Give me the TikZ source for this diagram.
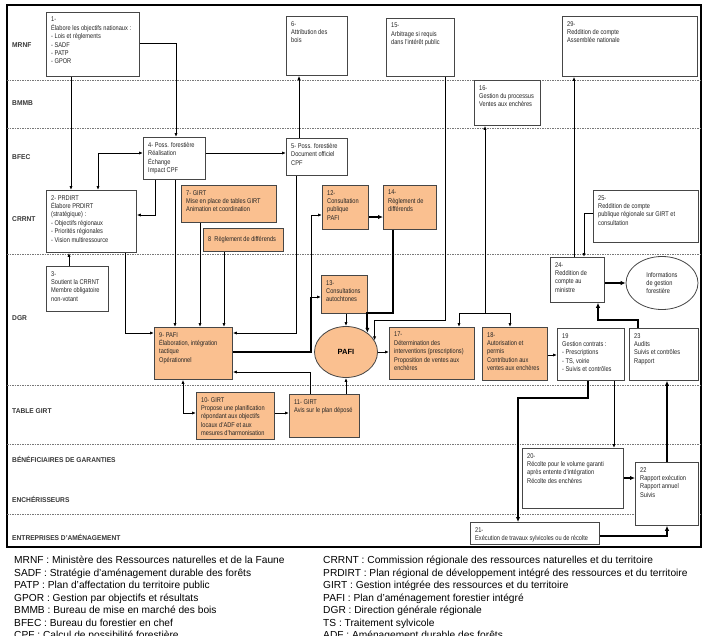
\documentclass[tikz,border=0pt]{standalone}
\usepackage{fontspec}
\setmainfont{Liberation Sans}
\newfontfamily\boxfont{Liberation Sans}[FakeStretch=0.82]
\newfontfamily\lanefont{Liberation Sans}[FakeStretch=0.95]
\usepackage{tikz}
\usetikzlibrary{arrows.meta, shapes.geometric}

\definecolor{lightorange}{RGB}{250,192,144}
\definecolor{boxline}{RGB}{70,70,70}
\definecolor{lanegray}{RGB}{120,120,120}
\definecolor{labelgray}{RGB}{55,55,55}

\begin{document}
\begin{tikzpicture}[x=1pt, y=-1pt, >={Latex[length=4pt,width=3.2pt]}]

        % Styles
        \tikzstyle{procbox} = [draw=boxline, line width=0.8pt, fill=white, anchor=north west, inner sep=0pt]
        \tikzstyle{girtbox} = [procbox, fill=lightorange]
        \tikzstyle{boxtext} = [anchor=north west, inner xsep=5pt, inner ysep=5pt, align=left, text=black!85, font=\boxfont\fontsize{6.9}{8.4}\selectfont]
        \tikzstyle{lanelabel} = [anchor=west, inner sep=0pt, text=labelgray, font=\lanefont\bfseries\fontsize{7}{8}\selectfont]
        \tikzstyle{laneline} = [lanegray, line width=0.6pt, dash pattern=on 1.5pt off 1pt]
        \tikzstyle{conn} = [->, line width=0.9pt]
        \tikzstyle{connboth} = [<->, line width=0.9pt]
        \tikzstyle{thickline} = [line width=2.2pt]
        \tikzstyle{thickconn} = [-{Latex[length=5pt,width=4.5pt]}, line width=2.2pt]
        \tikzstyle{legend} = [anchor=base west, inner sep=0pt, font=\fontsize{10.2}{12.5}\selectfont]

        \useasboundingbox (0,0) rectangle (707,635);

        % Frame and lanes
        \draw[line width=1.2pt] (7,5) rectangle (701,547);
        \draw[laneline] (7,80) -- (701,80);
        \draw[laneline] (7,128) -- (701,128);
        \draw[laneline] (7,254) -- (701,254);
        \draw[laneline] (7,385) -- (701,385);
        \draw[laneline] (7,444) -- (701,444);
        \draw[laneline] (7,514) -- (701,514);

        \node[lanelabel] (lMRNF) at (12,45) {MRNF};
        \node[lanelabel] (lBMMB) at (12,103) {BMMB};
        \node[lanelabel] (lBFEC) at (12,157) {BFEC};
        \node[lanelabel] (lCRRNT) at (12,219) {CRRNT};
        \node[lanelabel] (lDGR) at (12,318) {DGR};
        \node[lanelabel] (lTABLE) at (12,411) {TABLE GIRT};
        \node[lanelabel] (lBENEF) at (12,459) {BÉNÉFICIAIRES DE GARANTIES};
        \node[lanelabel] (lENCH) at (12,499) {ENCHÉRISSEURS};
        \node[lanelabel] (lENTR) at (12,537) {ENTREPRISES D’AMÉNAGEMENT};

        % MRNF / BMMB
        \node[procbox, minimum width=93pt, minimum height=64pt] (b1) at (46,12) {};
        \node[boxtext] (t1) at (b1.north west) {1-\\Élabore les objectifs nationaux :\\- Lois et règlements\\- SADF\\- PATP\\- GPOR};
        \node[procbox, minimum width=61pt, minimum height=59pt] (b6) at (286,16) {};
        \node[boxtext] (t6) at (b6.north west) {6-\\Attribution des\\bois};
        \node[procbox, minimum width=68pt, minimum height=58pt] (b15) at (386,18) {};
        \node[boxtext] (t15) at (b15.north west) {15-\\Arbitrage si requis\\dans l’intérêt public};
        \node[procbox, minimum width=135pt, minimum height=60pt] (b29) at (562,16) {};
        \node[boxtext] (t29) at (b29.north west) {29-\\Reddition de compte\\Assemblée nationale};
        \node[procbox, minimum width=66pt, minimum height=45pt] (b16) at (474,80) {};
        \node[boxtext] (t16) at (b16.north west) {16-\\Gestion du processus\\Ventes aux enchères};

        % BFEC / CRRNT
        \node[procbox, minimum width=62pt, minimum height=42pt] (b4) at (143,137) {};
        \node[boxtext] (t4) at (b4.north west) {4- Poss. forestière\\Réalisation\\Échange\\Impact CPF};
        \node[procbox, minimum width=61pt, minimum height=37pt] (b5) at (286,138) {};
        \node[boxtext] (t5) at (b5.north west) {5- Poss. forestière\\Document officiel\\CPF};
        \node[procbox, minimum width=90pt, minimum height=62pt] (b2) at (46,190) {};
        \node[boxtext] (t2) at (b2.north west) {2- PRDIRT\\Élabore PRDIRT\\(stratégique) :\\- Objectifs régionaux\\- Priorités régionales\\- Vision multiressource};
        \node[girtbox, minimum width=95pt, minimum height=37pt] (b7) at (181,185) {};
        \node[boxtext] (t7) at (b7.north west) {7- GIRT\\Mise en place de tables GIRT\\Animation et coordination};
        \node[girtbox, minimum width=80pt, minimum height=23pt] (b8) at (203,228) {};
        \node[boxtext, anchor=west] (t8) at (b8.west) {8\ \ Règlement de différends};
        \node[girtbox, minimum width=46pt, minimum height=44pt] (b12) at (322,185) {};
        \node[boxtext] (t12) at (b12.north west) {12-\\Consultation\\publique\\PAFI};
        \node[girtbox, minimum width=53pt, minimum height=44pt] (b14) at (383,185) {};
        \node[boxtext] (t14) at (b14.north west) {14-\\Règlement de\\différends};
        \node[procbox, minimum width=105pt, minimum height=52pt] (b25) at (593,190) {};
        \node[boxtext] (t25) at (b25.north west) {25-\\Reddition de compte\\publique régionale sur GIRT et\\consultation};

        % DGR
        \node[procbox, minimum width=62pt, minimum height=45pt] (b3) at (46,266) {};
        \node[boxtext] (t3) at (b3.north west) {3-\\Soutient la CRRNT\\Membre obligatoire\\non-votant};
        \node[girtbox, minimum width=46pt, minimum height=38pt] (b13) at (321,275) {};
        \node[boxtext] (t13) at (b13.north west) {13-\\Consultations\\autochtones};
        \node[procbox, minimum width=54pt, minimum height=45pt] (b24) at (550,257) {};
        \node[boxtext] (t24) at (b24.north west) {24-\\Reddition de\\compte au\\ministre};
        \node[ellipse, draw=boxline, line width=0.8pt, fill=white, minimum width=72pt, minimum height=53pt, inner sep=0pt, align=left, text=black!85, font=\boxfont\fontsize{6.9}{8.4}\selectfont] (info) at (662,283) {Informations\\de gestion\\forestière};
        \node[girtbox, minimum width=78pt, minimum height=52pt] (b9) at (154,327) {};
        \node[boxtext] (t9) at (b9.north west) {9- PAFI\\Élaboration, intégration\\tactique\\Opérationnel};
        \node[ellipse, draw=boxline, line width=0.8pt, fill=lightorange, minimum width=63pt, minimum height=51pt, inner sep=0pt, font=\bfseries\fontsize{7.5}{9}\selectfont] (pafi) at (346,352) {PAFI};
        \node[girtbox, minimum width=85pt, minimum height=52pt] (b17) at (389,327) {};
        \node[boxtext] (t17) at (b17.north west) {17-\\Détermination des\\interventions (prescriptions)\\Proposition de ventes aux\\enchères};
        \node[girtbox, minimum width=65pt, minimum height=53pt] (b18) at (482,327) {};
        \node[boxtext] (t18) at (b18.north west) {18-\\Autorisation et\\permis\\Contribution aux\\ventes aux enchères};
        \node[procbox, minimum width=67pt, minimum height=52pt] (b19) at (557,328) {};
        \node[boxtext] (t19) at (b19.north west) {19\\Gestion contrats :\\- Prescriptions\\- TS, voirie\\- Suivis et contrôles};
        \node[procbox, minimum width=69pt, minimum height=52pt] (b23) at (629,328) {};
        \node[boxtext] (t23) at (b23.north west) {23\\Audits\\Suivis et contrôles\\Rapport};

        % Table GIRT
        \node[girtbox, minimum width=78pt, minimum height=47pt] (b10) at (196,392) {};
        \node[boxtext] (t10) at (b10.north west) {10- GIRT\\Propose une planification\\répondant aux objectifs\\locaux d’ADF et aux\\mesures d’harmonisation};
        \node[girtbox, minimum width=70pt, minimum height=43pt] (b11) at (289,394) {};
        \node[boxtext] (t11) at (b11.north west) {11- GIRT\\Avis sur le plan déposé};

        % Beneficiaires, encherisseurs, entreprises
        \node[procbox, minimum width=101pt, minimum height=60pt] (b20) at (522,448) {};
        \node[boxtext] (t20) at (b20.north west) {20-\\Récolte pour le volume garanti\\après entente d’intégration\\Récolte des enchères};
        \node[procbox, minimum width=63pt, minimum height=63pt] (b22) at (635,462) {};
        \node[boxtext] (t22) at (b22.north west) {22\\Rapport exécution\\Rapport annuel\\Suivis};
        \node[procbox, minimum width=129pt, minimum height=22pt] (b21) at (470,522) {};
        \node[boxtext] (t21) at (b21.north west) {21-\\Exécution de travaux sylvicoles ou de récolte};

        % Connectors
        \draw[conn] (b1.south -| 71,0) -- (b2.north -| 71,0);
        \draw[conn] (b1.east |- 0,43) -| (b4.north -| 176,0);
        \draw[connboth] (b2.north -| 98,0) |- (b4.west |- 0,153);
        \draw[conn] (b4.south -| 155,0) |- (b2.east |- 0,215);
        \draw[conn] (b4.east |- 0,153) -- (b5.west |- 0,153);
        \draw[conn] (b5.north -| 299,0) -- (b6.south -| 299,0);
        \draw[conn] (b3.north -| 69,0) -- (b2.south -| 69,0);
        \draw[conn] (b2.south -| 125,0) |- (b9.west |- 0,333);
        \draw[conn] (b4.south -| 175,0) -- (b9.north -| 175,0);
        \draw[conn] (b7.south -| 200,0) -- (b9.north -| 200,0);
        \draw[conn] (b8.south -| 224,0) -- (b9.north -| 224,0);
        \draw[conn] (b5.south -| 296,0) |- (b9.east |- 0,333);

        \coordinate (j12) at (311,297);
        \draw[thickline] (b9.east |- 0,352) -| (j12);
        \draw[conn] (j12) |- (b12.west |- 0,215);
        \draw[conn] (j12) -- (b13.west |- j12);
        \draw[conn] (b11.north -| 310,0) |- (b9.east |- 0,372);
        \draw[connboth] (b9.south -| 183,0) |- (b10.west |- 0,413);
        \draw[conn] (b10.east |- 0,413) -- (b11.west |- 0,413);
        \draw[conn] (b11.north -| pafi.south) -- (pafi.south);
        \draw[conn] (b13.south -| pafi.north) -- (pafi.north);
        \draw[thickconn] (b12.east |- 0,217) -- (b14.west |- 0,217);
        \draw[thickconn] (b14.south -| 393,0) |- (pafi.42 |- 0,313) -- (pafi.42);
        \draw[conn] (b15.south -| 445,0) |- (pafi.22 |- 0,320) -- (pafi.22);
        \draw[conn] (pafi.east) -- (b17.west |- pafi.east);

        \coordinate (j16) at (485,313);
        \draw[conn] (j16) -- (b16.south -| j16);
        \draw[conn] (j16) -| (b17.north -| 459,0);
        \draw[conn] (j16) -| (b18.north -| 510,0);
        \draw[conn] (b18.east |- 0,355) -- (b19.west |- 0,355);

        \draw[conn] (b24.north -| 574,0) -- (b29.south -| 574,0);
        \draw[conn] (b25.west |- 0,213) -| (b24.north -| 584,0);
        \draw[thickconn] (b24.east |- info.west) -- (info.west);
        \draw[thickconn] (b23.north -| 638,0) |- (598,320) -- (b24.south -| 598,0);
        \draw[thickconn] (b19.south -| 588,0) |- (518,398) -- (b21.north -| 518,0);
        \draw[conn] (b19.south -| 614,0) -- (b20.north -| 614,0);
        \draw[thickconn] (b22.north -| 667,0) -- (b23.south -| 667,0);
        \draw[thickconn] (b20.east |- 0,478) -- (b22.west |- 0,478);
        \draw[thickconn] (b21.east |- 0,536) -| (b22.south -| 667,0);

        % Legend
        \node[legend] (lg1) at (14,563.5) {MRNF : Ministère des Ressources naturelles et de la Faune};
        \node[legend] (lg2) at (14,576) {SADF : Stratégie d’aménagement durable des forêts};
        \node[legend] (lg3) at (14,588.5) {PATP : Plan d’affectation du territoire public};
        \node[legend] (lg4) at (14,601) {GPOR : Gestion par objectifs et résultats};
        \node[legend] (lg5) at (14,613.5) {BMMB : Bureau de mise en marché des bois};
        \node[legend] (lg6) at (14,626) {BFEC : Bureau du forestier en chef};
        \node[legend] (lg7) at (14,638.5) {CPF : Calcul de possibilité forestière};
        \node[legend] (lg8) at (323,563.5) {CRRNT : Commission régionale des ressources naturelles et du territoire};
        \node[legend] (lg9) at (323,576) {PRDIRT : Plan régional de développement intégré des ressources et du territoire};
        \node[legend] (lg10) at (323,588.5) {GIRT : Gestion intégrée des ressources et du territoire};
        \node[legend] (lg11) at (323,601) {PAFI : Plan d’aménagement forestier intégré};
        \node[legend] (lg12) at (323,613.5) {DGR : Direction générale régionale};
        \node[legend] (lg13) at (323,626) {TS : Traitement sylvicole};
        \node[legend] (lg14) at (323,638.5) {ADF : Aménagement durable des forêts};

\end{tikzpicture}
\end{document}
